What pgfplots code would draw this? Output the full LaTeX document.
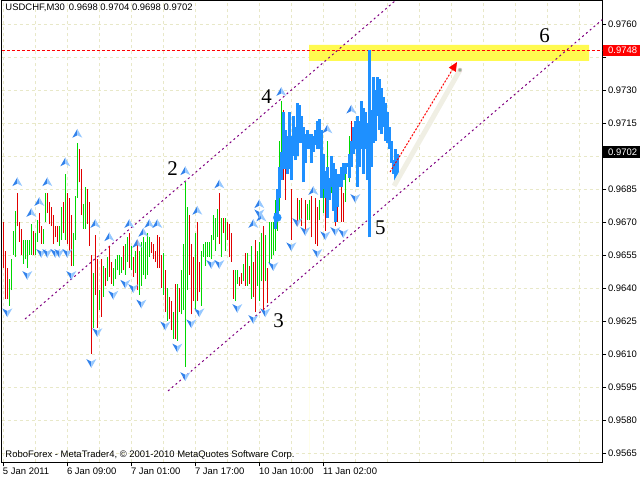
\documentclass[border=0pt]{standalone}
\usepackage{fontspec}
\setmainfont{Liberation Sans}
\newfontfamily\serifnum{Liberation Serif}
\usepackage{pgfplots}
\pgfplotsset{compat=1.18}
\usepackage{pgfplotstable}
\usetikzlibrary{arrows.meta}

\definecolor{barup}{RGB}{0,215,0}
\definecolor{bardn}{RGB}{225,0,0}
\definecolor{mtblue}{RGB}{30,144,255}
\definecolor{chan}{RGB}{128,0,128}
\definecolor{gridc}{RGB}{232,232,200}
\definecolor{band}{RGB}{255,250,80}
\definecolor{fdark}{RGB}{50,130,235}
\definecolor{flight}{RGB}{150,200,255}
\definecolor{shadowc}{RGB}{240,239,228}

\pgfdeclareplotmark{fup}{%
  \pgfpathmoveto{\pgfpoint{0pt}{\pgfplotmarksize}}%
  \pgfpathlineto{\pgfpoint{-\pgfplotmarksize}{-0.75\pgfplotmarksize}}%
  \pgfpathlineto{\pgfpoint{0pt}{-0.25\pgfplotmarksize}}%
  \pgfpathclose
  \pgfsetfillcolor{fdark}\pgfusepath{fill}%
  \pgfpathmoveto{\pgfpoint{0pt}{\pgfplotmarksize}}%
  \pgfpathlineto{\pgfpoint{\pgfplotmarksize}{-0.75\pgfplotmarksize}}%
  \pgfpathlineto{\pgfpoint{0pt}{-0.25\pgfplotmarksize}}%
  \pgfpathclose
  \pgfsetfillcolor{flight}\pgfusepath{fill}%
}
\pgfdeclareplotmark{fdown}{%
  \pgfpathmoveto{\pgfpoint{0pt}{-\pgfplotmarksize}}%
  \pgfpathlineto{\pgfpoint{-\pgfplotmarksize}{0.75\pgfplotmarksize}}%
  \pgfpathlineto{\pgfpoint{0pt}{0.25\pgfplotmarksize}}%
  \pgfpathclose
  \pgfsetfillcolor{fdark}\pgfusepath{fill}%
  \pgfpathmoveto{\pgfpoint{0pt}{-\pgfplotmarksize}}%
  \pgfpathlineto{\pgfpoint{\pgfplotmarksize}{0.75\pgfplotmarksize}}%
  \pgfpathlineto{\pgfpoint{0pt}{0.25\pgfplotmarksize}}%
  \pgfpathclose
  \pgfsetfillcolor{flight}\pgfusepath{fill}%
}

% bar index k (M30 bars), high, low
\pgfplotstableread{
k h l
3 0.9644 0.9632
4 0.9653 0.9639
5 0.9666 0.9655
6 0.9675 0.9654
10 0.9662 0.9651
11 0.9662 0.9653
12 0.9662 0.9649
13 0.9662 0.9655
14 0.9669 0.9655
16 0.9665 0.9655
17 0.9671 0.9661
20 0.9667 0.9660
21 0.9683 0.9670
28 0.9668 0.9659
29 0.9677 0.9662
31 0.9692 0.9662
35 0.9665 0.9650
36 0.9682 0.9662
37 0.9706 0.9681
40 0.9678 0.9667
41 0.9686 0.9667
45 0.9647 0.9622
48 0.9639 0.9630
50 0.9650 0.9636
52 0.9654 0.9643
55 0.9649 0.9641
56 0.9653 0.9644
57 0.9655 0.9648
58 0.9655 0.9646
59 0.9654 0.9647
61 0.9660 0.9646
62 0.9663 0.9652
64 0.9659 0.9648
66 0.9657 0.9647
68 0.9657 0.9637
69 0.9661 0.9641
70 0.9663 0.9646
71 0.9661 0.9644
72 0.9665 0.9646
73 0.9663 0.9654
80 0.9656 0.9637
82 0.9640 0.9625
85 0.9629 0.9617
87 0.9642 0.9616
89 0.9648 0.9628
90 0.9660 0.9630
91 0.9688 0.9604
92 0.9677 0.9639
96 0.9665 0.9630
99 0.9657 0.9632
100 0.9660 0.9654
101 0.9661 0.9650
102 0.9661 0.9654
103 0.9661 0.9654
104 0.9664 0.9653
105 0.9673 0.9662
106 0.9672 0.9657
107 0.9676 0.9663
109 0.9672 0.9654
111 0.9672 0.9657
116 0.9648 0.9634
117 0.9648 0.9642
120 0.9651 0.9643
122 0.9656 0.9641
124 0.9659 0.9635
127 0.9657 0.9641
128 0.9661 0.9634
129 0.9665 0.9643
131 0.9664 0.9643
133 0.9670 0.9651
134 0.9670 0.9653
135 0.9670 0.9655
136 0.9680 0.9657
137 0.9685 0.9666
138 0.9707 0.9675
139 0.9725 0.9700
148 0.9680 0.9671
152 0.9678 0.9671
153 0.9680 0.9671
158 0.9680 0.9671
160 0.9690 0.9674
162 0.9707 0.9689
164 0.9700 0.9683
171 0.9695 0.9679
173 0.9709 0.9688
}\upbars

\pgfplotstableread{
k h l
0 0.9670 0.9649
1 0.9657 0.9635
2 0.9649 0.9635
7 0.9683 0.9668
8 0.9670 0.9661
9 0.9667 0.9655
15 0.9666 0.9655
18 0.9674 0.9665
19 0.9668 0.9660
22 0.9683 0.9674
23 0.9679 0.9669
24 0.9677 0.9668
25 0.9673 0.9660
26 0.9668 0.9663
27 0.9668 0.9661
30 0.9679 0.9665
32 0.9683 0.9660
33 0.9681 0.9657
34 0.9673 0.9650
38 0.9703 0.9688
39 0.9694 0.9673
42 0.9685 0.9669
43 0.9679 0.9659
44 0.9655 0.9610
46 0.9664 0.9637
47 0.9653 0.9622
49 0.9653 0.9627
51 0.9649 0.9641
53 0.9659 0.9645
54 0.9652 0.9642
60 0.9659 0.9648
63 0.9665 0.9649
65 0.9654 0.9645
67 0.9662 0.9639
74 0.9661 0.9656
75 0.9660 0.9653
76 0.9657 0.9652
77 0.9664 0.9649
78 0.9663 0.9649
79 0.9655 0.9640
81 0.9648 0.9629
83 0.9636 0.9626
84 0.9634 0.9621
86 0.9642 0.9617
88 0.9640 0.9629
93 0.9673 0.9646
94 0.9660 0.9628
95 0.9654 0.9634
97 0.9670 0.9634
98 0.9652 0.9638
108 0.9683 0.9660
110 0.9672 0.9665
112 0.9670 0.9662
113 0.9669 0.9654
114 0.9665 0.9652
115 0.9648 0.9635
118 0.9645 0.9641
119 0.9647 0.9642
121 0.9656 0.9641
123 0.9650 0.9642
125 0.9652 0.9636
126 0.9662 0.9629
130 0.9668 0.9630
132 0.9649 0.9633
140 0.9721 0.9689
141 0.9703 0.9680
144 0.9685 0.9662
147 0.9681 0.9668
149 0.9681 0.9668
151 0.9680 0.9666
154 0.9682 0.9663
156 0.9681 0.9660
157 0.9677 0.9659
161 0.9686 0.9666
166 0.9681 0.9668
167 0.9683 0.9670
169 0.9686 0.9670
170 0.9683 0.9670
174 0.9716 0.9695
177 0.9710 0.9692
}\dnbars

\pgfplotstableread{
k h l
136 0.9674 0.9667
137 0.9685 0.9672
138 0.9695 0.9681
139 0.9702 0.9689
140 0.9720 0.9694
141 0.9712 0.9694
142 0.9709 0.9692
143 0.9720 0.9694
144 0.9709 0.9689
145 0.9718 0.9700
146 0.9713 0.9698
147 0.9724 0.9700
148 0.9723 0.9706
149 0.9718 0.9706
150 0.9713 0.9688
151 0.9710 0.9697
152 0.9712 0.9703
153 0.9710 0.9703
154 0.9710 0.9697
155 0.9709 0.9702
156 0.9712 0.9705
157 0.9716 0.9703
158 0.9717 0.9703
159 0.9712 0.9681
160 0.9701 0.9685
161 0.9693 0.9681
162 0.9695 0.9672
163 0.9690 0.9680
164 0.9700 0.9686
165 0.9697 0.9675
166 0.9694 0.9670
167 0.9692 0.9677
168 0.9692 0.9686
169 0.9695 0.9686
170 0.9697 0.9689
171 0.9697 0.9692
172 0.9697 0.9695
173 0.9701 0.9690
174 0.9707 0.9695
175 0.9713 0.9701
176 0.9716 0.9703
177 0.9718 0.9686
178 0.9716 0.9695
179 0.9725 0.9703
180 0.9722 0.9692
181 0.9720 0.9703
182 0.9715 0.9689
183 0.9748 0.9663
184 0.9721 0.9695
185 0.9736 0.9706
186 0.9730 0.9707
187 0.9736 0.9718
188 0.9735 0.9712
189 0.9731 0.9710
190 0.9727 0.9713
191 0.9724 0.9707
192 0.9720 0.9706
193 0.9713 0.9703
194 0.9707 0.9697
195 0.9698 0.9692
196 0.9703 0.9688
197 0.9701 0.9690
}\bluebars

\pgfplotstableread{
k p
7 0.9688
14 0.9674
18 0.9679
22 0.9688
31 0.9697
37 0.9710
46 0.9669
53 0.9663
63 0.9669
67 0.9660
70 0.9665
73 0.9669
77 0.9669
91 0.9693
97 0.9675
108 0.9687
125 0.9669
129 0.9672
128 0.9678
139 0.9729
155 0.9684
162 0.9712
174 0.9721
}\fracup

\pgfplotstableread{
k p
2 0.9629
12 0.9646
19 0.9656
22 0.9656
26 0.9656
28 0.9656
32 0.9656
34 0.9646
44 0.9606
47 0.9620
55 0.9637
61 0.9642
65 0.9640
69 0.9633
81 0.9623
87 0.9613
91 0.9600
94 0.9624
98 0.9629
104 0.9651
108 0.9651
117 0.9631
125 0.9626
131 0.9629
128 0.9674
135 0.9650
144 0.9659
147 0.9670
151 0.9666
157 0.9656
161 0.9664
166 0.9666
170 0.9665
176 0.9681
}\fracdn

\newcommand{\mt}{\fontsize{9.5}{11}\selectfont}

\begin{document}
\begin{tikzpicture}
\useasboundingbox (0,0) rectangle (640bp,480bp);
\begin{axis}[
  at={(1.7bp,17.5bp)}, anchor=south west,
  scale only axis, width=600.6bp, height=462.5bp,
  xmin=-0.8, xmax=299.5, ymin=0.956068, ymax=0.977091,
  axis line style={black, line width=0.8bp},
  xtick={0,32,64,96,128,160},
  xticklabels={5 Jan 2011, 6 Jan 09:00, 7 Jan 01:00, 7 Jan 17:00, 10 Jan 10:00, 11 Jan 02:00},
  minor xtick={16,48,80,112,144,176,192,208,224,240,256,272,288},
  xtick pos=bottom, ytick pos=right, yticklabel pos=right,
  tick align=outside, major tick length=4bp, minor tick length=0pt,
  tick style={black, line width=0.8bp},
  grid=both,
  major grid style={gridc, dash pattern=on 3bp off 3bp, line width=0.8bp},
  minor grid style={gridc, dash pattern=on 3bp off 3bp, line width=0.8bp},
  ytick={0.9565,0.958,0.9595,0.961,0.9625,0.964,0.9655,0.967,0.9685,0.97,0.9715,0.973,0.9745,0.976},
  yticklabels={0.9565,0.9580,0.9595,0.9610,0.9625,0.9640,0.9655,0.9670,0.9685,{},0.9715,0.9730,{},0.9760},
  ticklabel style={font=\mt},
  xticklabel style={anchor=north west, inner sep=0pt, yshift=-1bp, xshift=-0.5bp},
  yticklabel style={anchor=west, inner sep=0pt, xshift=1.5bp},
]
% target zone
\addplot[fill=band, draw=none] coordinates {(152.85,0.97432) (292.85,0.97432) (292.85,0.97505) (152.85,0.97505)} \closedcycle;
% channel lines
\addplot[chan, line width=1bp, dash pattern=on 2bp off 3bp] coordinates {(10.85,0.96259) (196.4,0.97709)};
\addplot[chan, line width=1bp, dash pattern=on 2bp off 3bp] coordinates {(82.35,0.95932) (299.5,0.97620)};
% level line
\addplot[red, line width=1bp, dash pattern=on 3bp off 2bp] coordinates {(-0.8,0.9748) (299.5,0.9748)};
% bars
\addplot[barup, line width=1bp, quiver={u=0, v=\thisrow{h}-\thisrow{l}}] table[x=k, y=l] {\upbars};
\addplot[bardn, line width=1bp, quiver={u=0, v=\thisrow{h}-\thisrow{l}}] table[x=k, y=l] {\dnbars};
\addplot[mtblue, line width=3.6bp, quiver={u=0, v=\thisrow{h}-\thisrow{l}}] table[x=k, y=l] {\bluebars};
\addplot[only marks, mark=*, mark size=4bp, mtblue] coordinates {(137,0.9672)};
% fractals
\addplot[only marks, mark=fup, mark size=5bp] table[x=k, y=p] {\fracup};
\addplot[only marks, mark=fdown, mark size=5bp] table[x=k, y=p] {\fracdn};
% forecast arrow
\addplot[shadowc, line width=5bp] coordinates {(195.35,0.96864) (228.35,0.97391)};
\addplot[red, line width=1bp, dash pattern=on 2bp off 1.5bp, -{Triangle[length=9bp,width=8bp]}] coordinates {(193.35,0.96927) (226.85,0.97427)};
\addplot[only marks, mark=*, mark size=2bp, mark options={fill={rgb,255:red,150;green,180;blue,150}, draw={rgb,255:red,240;green,205;blue,220}}] coordinates {(228.35,0.97391)};
% wave labels
\node[font=\serifnum\fontsize{21}{21}\selectfont, inner sep=0pt] at (axis cs:84.6,0.96941) {2};
\node[font=\serifnum\fontsize{21}{21}\selectfont, inner sep=0pt] at (axis cs:131.7,0.97268) {4};
\node[font=\serifnum\fontsize{21}{21}\selectfont, inner sep=0pt] at (axis cs:137.6,0.96252) {3};
\node[font=\serifnum\fontsize{21}{21}\selectfont, inner sep=0pt] at (axis cs:188.5,0.96675) {5};
\node[font=\serifnum\fontsize{21}{21}\selectfont, inner sep=0pt] at (axis cs:270.7,0.97548) {6};
\coordinate (p48) at (axis cs:299.5,0.9748);
\coordinate (p02) at (axis cs:299.5,0.97018);
\end{axis}
\node[fill=red, text=white, anchor=west, inner xsep=5bp, inner ysep=2.2bp, font=\mt, xshift=0.6bp] at (p48) {0.9748};
\node[fill=black, text=white, anchor=west, inner xsep=5bp, inner ysep=2.2bp, font=\mt, xshift=0.6bp] at (p02) {0.9702};
\node[anchor=north west, inner sep=0pt, font=\mt] at (5.3bp,476.7bp) {USDCHF,M30\hspace{4bp}0.9698 0.9704 0.9698 0.9702};
\node[anchor=north west, inner sep=0pt, font=\mt] at (5.3bp,29.3bp) {RoboForex - MetaTrader4, © 2001-2010 MetaQuotes Software Corp.};
\end{tikzpicture}
\end{document}
